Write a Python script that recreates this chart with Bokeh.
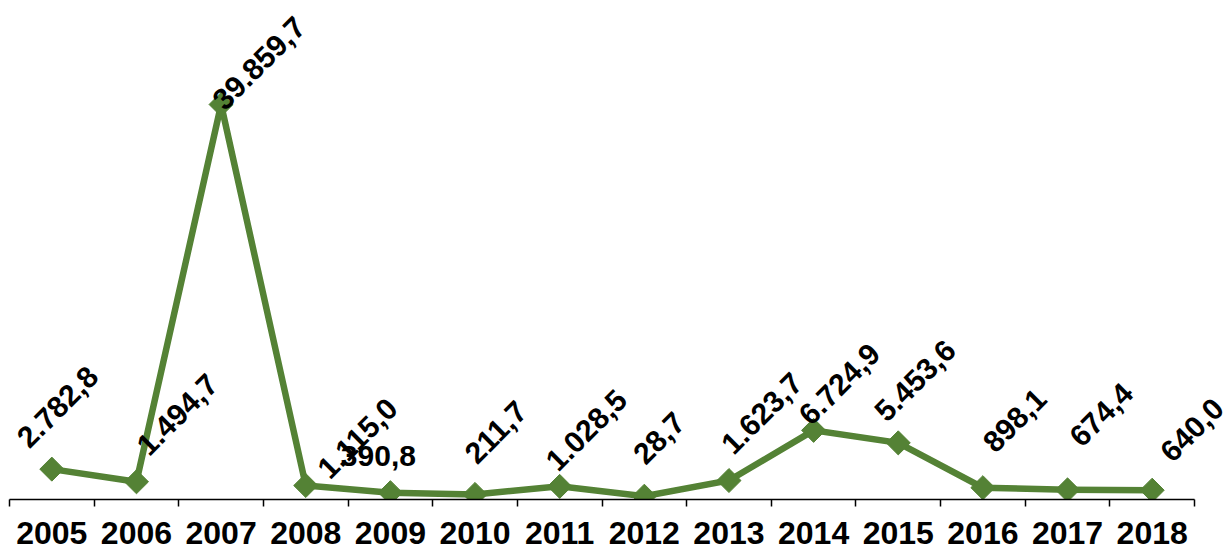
import math
from bokeh.plotting import figure
from bokeh.models import ColumnDataSource, FixedTicker, Range1d
from bokeh.core.properties import value
from bokeh.embed import file_html
from bokeh.resources import INLINE

# ---- data ----
years = ["2005", "2006", "2007", "2008", "2009", "2010", "2011",
         "2012", "2013", "2014", "2015", "2016", "2017", "2018"]
values = [2782.8, 1494.7, 39859.7, 1115.0, 390.8, 211.7, 1028.5,
          28.7, 1623.7, 6724.9, 5453.6, 898.1, 674.4, 640.0]

# ---- label placement (styling, screen px) ----
label_dx = [6, 41, 38, 52, -12, 21, 27, 15, 33, 26, 17, 32, 34, 40]
label_dy = [-62, -67, -41, -47, -37, -62, -56, -58, -67, -46, -62, -67, -75, -60]
label_rot = [45, 45, 45, 45, 0, 45, 45, 45, 45, 45, 45, 45, 45, 45]


def fmt_de(v):
    s = f"{v:,.1f}"
    return s.replace(",", "X").replace(".", ",").replace("X", ".")


GREEN = "#548235"
FONT = "Liberation Sans"

n = len(years)
xs = list(range(n))
src = ColumnDataSource(dict(
    x=xs,
    y=values,
    lab=[fmt_de(v) for v in values],
    dx=label_dx,
    dy=label_dy,
    ang=[math.radians(a) for a in label_rot],
))

unit = 1185 / n  # px per category
p = figure(width=1231, height=549, output_backend="svg", toolbar_location=None,
           x_range=Range1d(-0.5 - 9 / unit, n - 0.5 + 37 / unit),
           y_range=Range1d(-305, 50432),
           min_border_left=0, min_border_right=0, min_border_top=0,
           min_border_bottom=50, y_axis_location=None)
p.outline_line_color = None
p.xgrid.visible = False
p.ygrid.visible = False
p.background_fill_color = "white"
p.border_fill_color = "white"

p.line("x", "y", source=src, line_width=6.5, line_color=GREEN, line_join="miter")
p.scatter("x", "y", source=src, marker="square", size=17, angle=math.pi / 4,
          fill_color=GREEN, line_color=GREEN)

p.text("x", "y", text="lab", source=src, x_offset="dx", y_offset="dy", angle="ang",
       text_align="center", text_baseline="middle",
       text_font=value(FONT), text_font_style="bold", text_font_size="30px",
       text_color="black")

ax = p.xaxis[0]
ax.bounds = (-0.5, n - 0.5)
ax.ticker = FixedTicker(ticks=xs, minor_ticks=[i - 0.5 for i in range(n + 1)])
ax.major_label_overrides = {i: y for i, y in enumerate(years)}
ax.major_tick_out = 0
ax.major_tick_in = 0
ax.minor_tick_out = 7
ax.minor_tick_in = 0
ax.minor_tick_line_color = "black"
ax.minor_tick_line_width = 1.5
ax.axis_line_color = "black"
ax.axis_line_width = 1.5
ax.major_label_text_font = FONT
ax.major_label_text_font_style = "bold"
ax.major_label_text_font_size = "32px"
ax.major_label_text_color = "black"
ax.major_label_standoff = 15
ax.major_label_text_line_height = 0.8

open("out.html", "w").write(file_html(p, INLINE))
